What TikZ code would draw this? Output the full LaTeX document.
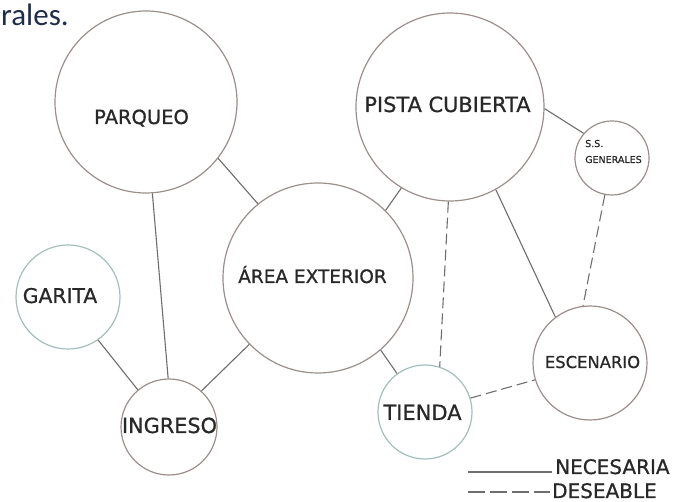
\documentclass[tikz,border=0pt]{standalone}
\usepackage{fontspec}
\setmainfont{DejaVu Sans}
\newfontfamily\lblfont[FakeBold=0.8]{DejaVu Sans}
\newfontfamily\carl{Carlito}
\definecolor{circbrown}{RGB}{155,143,139}
\definecolor{circteal}{RGB}{165,190,190}
\definecolor{linegrey}{RGB}{110,110,110}
\definecolor{txtgrey}{RGB}{40,40,40}
\definecolor{navy}{RGB}{30,45,75}
\tikzset{
  bubble/.style={circle, draw=circbrown, line width=1.2pt, inner sep=0pt, fill=white},
  bubbleteal/.style={bubble, draw=circteal},
  lbl/.style={anchor=base, inner sep=0pt, text=txtgrey, font=\lblfont},
  need/.style={draw=linegrey, line width=1.1pt},
  wish/.style={draw=linegrey, line width=1.1pt, dash pattern=on 11pt off 5pt},
}
\begin{document}
\begin{tikzpicture}[x=1pt, y=-1pt]
\useasboundingbox (0,0) rectangle (678,502);
\fill[white] (0,0) rectangle (678,502);

% top-left fragment
\node[anchor=base west, inner sep=0pt, text=navy, font=\carl\fontsize{31}{31}\selectfont] (frag) at (1,26) {rales.};

% circles
\node[bubble, minimum size=182pt] (parqueo) at (146,102) {};
\node[bubble, minimum size=188pt] (pista) at (450,107) {};
\node[bubble, minimum size=74pt] (ss) at (612,158) {};
\node[bubble, minimum size=190pt] (area) at (318,278) {};
\node[bubbleteal, minimum size=104pt] (garita) at (68,297) {};
\node[bubble, minimum size=96pt] (ingreso) at (169,427) {};
\node[bubbleteal, minimum size=94pt] (tienda) at (425,412) {};
\node[bubble, minimum size=114pt] (escenario) at (590,363) {};

% labels
\node[lbl, font=\lblfont\fontsize{19.5}{19.5}\selectfont] (parqueo-t) at (141.5,124) {PARQUEO};
\node[lbl, font=\lblfont\fontsize{20.9}{20.9}\selectfont] (pista-t) at (447.5,112) {PISTA CUBIERTA};
\node[lbl, font=\lblfont\fontsize{18.5}{18.5}\selectfont] (area-t) at (312.5,283) {ÁREA EXTERIOR};
\node[lbl, font=\lblfont\fontsize{20.3}{20.3}\selectfont] (garita-t) at (60,303) {GARITA};
\node[lbl, font=\lblfont\fontsize{20.8}{20.8}\selectfont] (ingreso-t) at (169.5,433) {INGRESO};
\node[lbl, font=\lblfont\fontsize{21}{21}\selectfont] (tienda-t) at (422.5,420) {TIENDA};
\node[lbl, font=\lblfont\fontsize{16.4}{16.4}\selectfont] (escenario-t) at (592.5,368) {ESCENARIO};
\node[lbl, anchor=base west, font=\lblfont\fontsize{9.5}{9.5}\selectfont] (ss-t1) at (585,147) {S.S.};
\node[lbl, anchor=base west, font=\lblfont\fontsize{9.5}{9.5}\selectfont] (ss-t2) at (585,163) {GENERALES};

% necessary connections
\draw[need] (parqueo.-38) -- (area.129);
\draw[need] (parqueo.-86) -- (ingreso.91);
\draw[need] (garita.-55) -- (ingreso.130);
\draw[need] (ingreso.48) -- (area.224);
\draw[need] (area.45) -- (pista.239);
\draw[need] (area.-49) -- (tienda.126);
\draw[need] (pista.-1) -- (ss.139);
\draw[need] (pista.-61) -- (escenario.127);

% desirable connections
\draw[wish] (pista.-91) -- (tienda.72);
\draw[wish] (ss.259) -- (escenario.97);
\draw[wish] (tienda.17) -- (escenario.197);

% legend
\coordinate (l1a) at (468,472);
\coordinate (l1b) at (552,472);
\coordinate (l2a) at (468,492);
\coordinate (l2b) at (550,492);
\draw[need] (l1a) -- (l1b);
\draw[wish, dash pattern=on 17pt off 5pt] (l2a) -- (l2b);
\node[lbl, anchor=base west, font=\lblfont\fontsize{20}{20}\selectfont] (nec) at (555,474) {NECESARIA};
\node[lbl, anchor=base west, font=\lblfont\fontsize{20}{20}\selectfont] (des) at (552,498) {DESEABLE};
\end{tikzpicture}
\end{document}
